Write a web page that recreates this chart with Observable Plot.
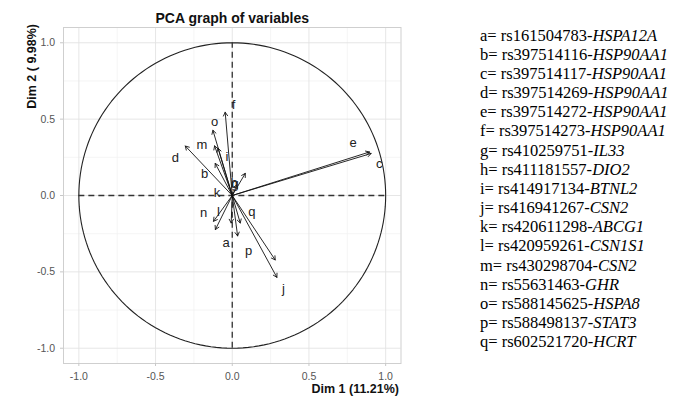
<!DOCTYPE html>
<html>
<head>
<meta charset="utf-8">
<script src="https://cdn.jsdelivr.net/npm/d3@7"></script>
<script src="https://cdn.jsdelivr.net/npm/@observablehq/plot@0.6"></script>
<style>
  html, body { margin: 0; padding: 0; background: #fff; }
  #wrap { position: relative; width: 674px; height: 405px; overflow: hidden; }
  #chart { position: absolute; left: 0; top: 0; }
  #legend { position: absolute; left: 480px; top: 25.5px; font-family: "Liberation Serif", "Times New Roman", Times, serif; font-size: 16.5px; line-height: 19.17px; color: #000; white-space: nowrap; }
  #legend i { font-style: italic; font-family: inherit; }
</style>
</head>
<body>
<div id="wrap"><div id="chart"></div><div id="legend"></div></div>
<script>
// ---- data ----
const ids   = ["a","b","c","d","e","f","g","h","i","j","k","l","m","n","o","p","q"];
const dim1  = [0.035,-0.111,0.905,-0.306,0.895,-0.046,0.085,0.030,-0.093,0.291,-0.007,-0.122,-0.115,-0.110,-0.126,0.280,0.052];
const dim2  = [-0.265,0.210,0.275,0.324,0.285,0.545,0.145,0.070,0.310,-0.536,-0.180,-0.169,0.325,-0.223,0.427,-0.422,-0.180];
const labelX = [-0.040,-0.180,0.958,-0.371,0.788,0.008,0.018,0.012,-0.035,0.334,-0.100,-0.090,-0.197,-0.187,-0.115,0.106,0.128];
const labelY = [-0.310,0.139,0.210,0.247,0.347,0.593,0.075,0.085,0.250,-0.608,0.016,-0.104,0.334,-0.114,0.485,-0.364,-0.110];
const snps  = ["rs161504783","rs397514116","rs397514117","rs397514269","rs397514272","rs397514273","rs410259751","rs411181557","rs414917134","rs416941267","rs420611298","rs420959261","rs430298704","rs55631463","rs588145625","rs588498137","rs602521720"];
const genes = ["HSPA12A","HSP90AA1","HSP90AA1","HSP90AA1","HSP90AA1","HSP90AA1","IL33","DIO2","BTNL2","CSN2","ABCG1","CSN1S1","CSN2","GHR","HSPA8","STAT3","HCRT"];
const majorTicks = [-1, -0.5, 0, 0.5, 1];
const minorTicks = [-0.75, -0.25, 0.25, 0.75];
const titleText = "PCA graph of variables";
const xLabel = "Dim 1 (11.21%)";
const yLabel = "Dim 2 ( 9.98%)";
const radius = 1; // correlation circle

const vars = ids.map((id, i) => ({id, x: dim1[i], y: dim2[i], lx: labelX[i], ly: labelY[i]}));
const circle = d3.range(0, 361, 2).map(a => ({x: radius * Math.cos(a * Math.PI / 180), y: radius * Math.sin(a * Math.PI / 180)}));
const fmt = d => d.toFixed(1);

const plot = Plot.plot({
  width: 440,
  height: 405,
  marginLeft: 63,
  marginRight: 39.5,
  marginTop: 27,
  marginBottom: 42,
  x: {domain: [-1.1, 1.1]},
  y: {domain: [-1.1, 1.1]},
  style: {fontFamily: "'Liberation Sans', Arial, Helvetica, sans-serif", background: "#fff"},
  marks: [
    Plot.ruleX(minorTicks, {stroke: "#f0f0f0", strokeWidth: 0.7}),
    Plot.ruleY(minorTicks, {stroke: "#f0f0f0", strokeWidth: 0.7}),
    Plot.ruleX(majorTicks, {stroke: "#e3e3e3", strokeWidth: 0.9}),
    Plot.ruleY(majorTicks, {stroke: "#e3e3e3", strokeWidth: 0.9}),
    Plot.frame({stroke: "#cfcfcf", strokeWidth: 1}),
    Plot.axisX(majorTicks, {tickSize: 3, tickPadding: 6, fontSize: 10.5, tickFormat: fmt, label: null, stroke: "#c8c8c8", fill: "#555"}),
    Plot.axisY(majorTicks, {tickSize: 3, tickPadding: 5.5, fontSize: 10.5, tickFormat: fmt, label: null, stroke: "#c8c8c8", fill: "#555"}),
    Plot.line(circle, {x: "x", y: "y", stroke: "#222", strokeWidth: 1.1}),
    Plot.ruleX([0], {y1: -radius, y2: radius, stroke: "#333", strokeWidth: 1.3, strokeDasharray: "6,4"}),
    Plot.ruleY([0], {x1: -radius, x2: radius, stroke: "#333", strokeWidth: 1.3, strokeDasharray: "6,4"}),
    Plot.arrow(vars, {x1: () => 0, y1: () => 0, x2: "x", y2: "y", stroke: "#111", strokeWidth: 0.9, headLength: 7, headAngle: 60}),
    Plot.text(vars, {x: "lx", y: "ly", text: "id", fontSize: 13, fill: "#222"}),
    Plot.text([titleText], {frameAnchor: "top", dy: -14.5, fontSize: 14, fontWeight: "bold", fill: "#111"}),
    Plot.text([xLabel], {frameAnchor: "bottom-right", textAnchor: "end", dx: -2, dy: 29.5, fontSize: 12.5, fontWeight: "bold", fill: "#111"}),
    Plot.text([yLabel], {frameAnchor: "top-left", textAnchor: "end", rotate: -90, dx: -36, dy: -3.5, fontSize: 12.5, fontWeight: "bold", fill: "#111"})
  ]
});
document.getElementById("chart").appendChild(plot);

const legend = d3.select("#legend");
ids.forEach((id, i) => {
  const line = legend.append("div");
  line.append("span").text(`${id}= ${snps[i]}-`);
  line.append("i").text(genes[i]);
});
</script>
</body>
</html>
